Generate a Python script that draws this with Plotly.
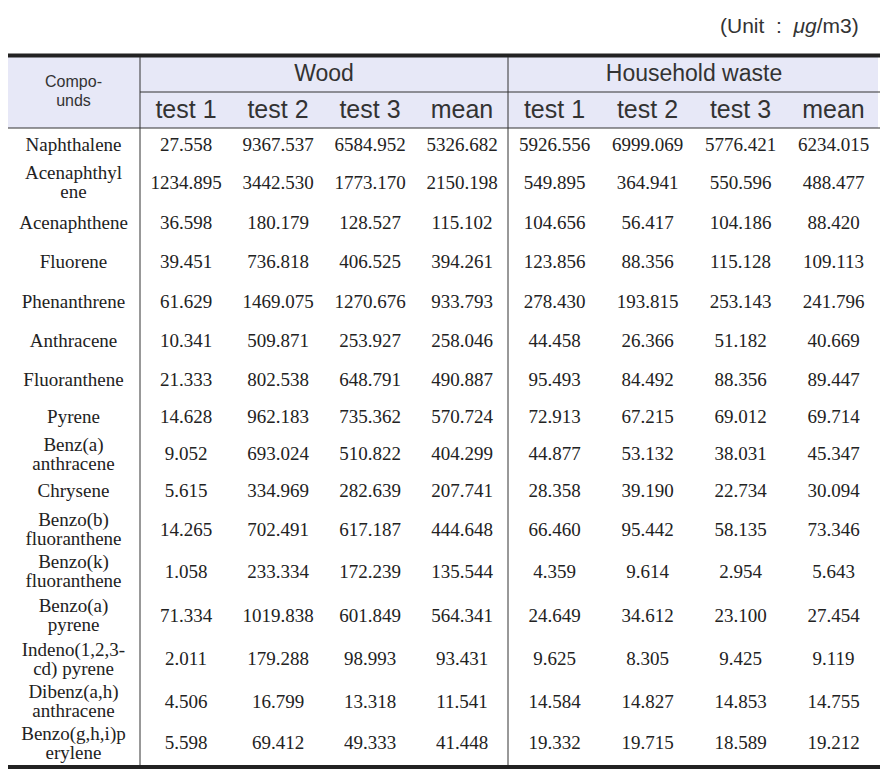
import plotly.graph_objects as go

# table content
compounds = ["Naphthalene", "Acenaphthyl\nene", "Acenaphthene", "Fluorene", "Phenanthrene",
             "Anthracene", "Fluoranthene", "Pyrene", "Benz(a)\nanthracene", "Chrysene",
             "Benzo(b)\nfluoranthene", "Benzo(k)\nfluoranthene", "Benzo(a)\npyrene",
             "Indeno(1,2,3-\ncd) pyrene", "Dibenz(a,h)\nanthracene", "Benzo(g,h,i)p\nerylene"]
groups = ["Wood", "Household waste"]
sub_cols = ["test 1", "test 2", "test 3", "mean"]

wood_test1 = [27.558, 1234.895, 36.598, 39.451, 61.629, 10.341, 21.333, 14.628,
              9.052, 5.615, 14.265, 1.058, 71.334, 2.011, 4.506, 5.598]
wood_test2 = [9367.537, 3442.530, 180.179, 736.818, 1469.075, 509.871, 802.538, 962.183,
              693.024, 334.969, 702.491, 233.334, 1019.838, 179.288, 16.799, 69.412]
wood_test3 = [6584.952, 1773.170, 128.527, 406.525, 1270.676, 253.927, 648.791, 735.362,
              510.822, 282.639, 617.187, 172.239, 601.849, 98.993, 13.318, 49.333]
wood_mean = [5326.682, 2150.198, 115.102, 394.261, 933.793, 258.046, 490.887, 570.724,
             404.299, 207.741, 444.648, 135.544, 564.341, 93.431, 11.541, 41.448]
hh_test1 = [5926.556, 549.895, 104.656, 123.856, 278.430, 44.458, 95.493, 72.913,
            44.877, 28.358, 66.460, 4.359, 24.649, 9.625, 14.584, 19.332]
hh_test2 = [6999.069, 364.941, 56.417, 88.356, 193.815, 26.366, 84.492, 67.215,
            53.132, 39.190, 95.442, 9.614, 34.612, 8.305, 14.827, 19.715]
hh_test3 = [5776.421, 550.596, 104.186, 115.128, 253.143, 51.182, 88.356, 69.012,
            38.031, 22.734, 58.135, 2.954, 23.100, 9.425, 14.853, 18.589]
hh_mean = [6234.015, 488.477, 88.420, 109.113, 241.796, 40.669, 89.447, 69.714,
           45.347, 30.094, 73.346, 5.643, 27.454, 9.119, 14.755, 19.212]

unit_text = "(Unit  :  <i>μg</i>/m3)"

# layout of the table (pixels); the page body adds an 8px margin, so the
# axis ranges start at 8 to keep these numbers equal to screen pixels
left = 7
col_widths = [133, 92, 92, 92, 92, 93, 93, 93, 93]
top = 57
head_rows = [35, 36]
row_heights = [36, 40, 40, 39, 40, 39, 38, 37, 37, 37, 40, 44, 44, 43, 42, 41]
line_gap = 19
page_off = 8

serif = "Liberation Serif"
sans = "Liberation Sans"
ink = "#222222"

edges = [left]
for w in col_widths:
    edges.append(edges[-1] + w)
centers = [(edges[i] + edges[i + 1]) / 2 for i in range(len(col_widths))]
right = edges[-1]

body_top = top + sum(head_rows)
row_mid = []
y = body_top
for h in row_heights:
    row_mid.append(y + h / 2)
    y += h
bottom = y

fig = go.Figure()

# compound names, split into their printed lines
lx, ly, lt = [], [], []
for name, yc in zip(compounds, row_mid):
    parts = name.split("\n")
    n = len(parts)
    for k, p in enumerate(parts):
        lx.append(centers[0])
        ly.append(yc + (k - (n - 1) / 2) * line_gap)
        lt.append(p)
fig.add_trace(go.Scatter(x=lx, y=ly, text=lt, mode="text", hoverinfo="skip",
                         textfont=dict(family=serif, size=19, color=ink)))

# values
series = [wood_test1, wood_test2, wood_test3, wood_mean,
          hh_test1, hh_test2, hh_test3, hh_mean]
vx, vy, vt = [], [], []
for j, s in enumerate(series):
    for v, yc in zip(s, row_mid):
        vx.append(centers[j + 1])
        vy.append(yc)
        vt.append(f"{v:.3f}")
fig.add_trace(go.Scatter(x=vx, y=vy, text=vt, mode="text", hoverinfo="skip",
                         textfont=dict(family=serif, size=19, color=ink)))

# header text
h1 = top + head_rows[0] / 2
h2 = top + head_rows[0] + head_rows[1] / 2
gx = [(edges[1] + edges[5]) / 2, (edges[5] + edges[9]) / 2]
fig.add_trace(go.Scatter(x=gx, y=[h1 + 1, h1 + 1], text=groups, mode="text", hoverinfo="skip",
                         textfont=dict(family=sans, size=23, color="#333333")))
sx = centers[1:]
fig.add_trace(go.Scatter(x=sx, y=[h2 + 2] * len(sx), text=sub_cols * 2, mode="text",
                         hoverinfo="skip",
                         textfont=dict(family=sans, size=25, color="#333333")))
hm = top + sum(head_rows) / 2
fig.add_trace(go.Scatter(x=[centers[0], centers[0]], y=[hm - 10, hm + 9], text=["Compo-", "unds"],
                         mode="text", hoverinfo="skip",
                         textfont=dict(family=sans, size=16, color="#333333")))

shapes = [
    dict(type="rect", x0=left, x1=right - 2, y0=top, y1=body_top,
         fillcolor="#E7E8F7", line=dict(width=0), layer="below"),
    dict(type="line", x0=left, x1=right, y0=top - 1.5, y1=top - 1.5,
         line=dict(color="#222222", width=4)),
    dict(type="line", x0=edges[1], x1=right, y0=top + head_rows[0], y1=top + head_rows[0],
         line=dict(color="#333333", width=1)),
    dict(type="line", x0=left, x1=right, y0=body_top, y1=body_top,
         line=dict(color="#333333", width=1)),
    dict(type="line", x0=left, x1=right, y0=bottom + 2, y1=bottom + 2,
         line=dict(color="#222222", width=4)),
]
for xv in [edges[1], edges[5]]:
    shapes.append(dict(type="line", x0=xv, x1=xv, y0=top, y1=bottom,
                       line=dict(color="#333333", width=1)))

fig.update_layout(
    width=896, height=778,
    margin=dict(l=0, r=0, t=0, b=0),
    paper_bgcolor="white", plot_bgcolor="white",
    showlegend=False,
    xaxis=dict(range=[page_off, 896 + page_off], visible=False, fixedrange=True),
    yaxis=dict(range=[778 + page_off, page_off], visible=False, fixedrange=True),
    shapes=shapes,
    annotations=[dict(x=861, y=25, xref="x", yref="y", text=unit_text, showarrow=False,
                      xanchor="right", yanchor="middle",
                      font=dict(family=sans, size=21, color="#333333"))],
)

fig.write_html("out.html")
